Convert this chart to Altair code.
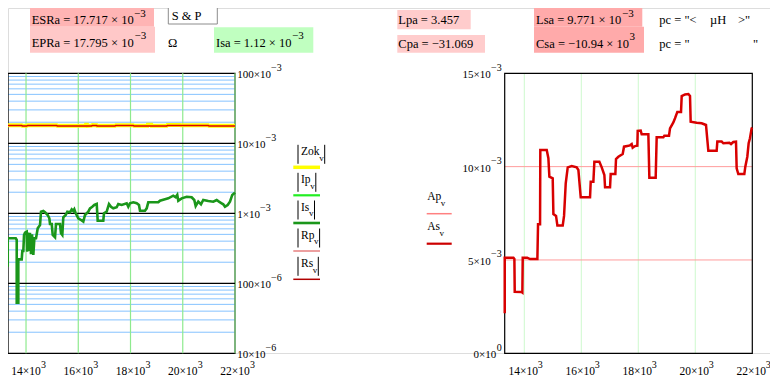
import altair as alt
import pandas as pd

# ---------------------------------------------------------------- values
FREQ_TICKS = [14000, 16000, 18000, 20000, 22000]
FREQ_BASE = ["14×10", "16×10", "18×10", "20×10", "22×10"]
FREQ_EXP = ["3", "3", "3", "3", "3"]
X_DOMAIN = [13310, 22000]

LEFT_Y_DOMAIN = [1e-5, 1e-1]
LEFT_TICKS = [1e-1, 1e-2, 1e-3, 1e-4, 1e-5]
LEFT_BASE = ["100×10", "10×10", "1×10", "100×10", "10×10"]
LEFT_EXP = ["−3", "−3", "−3", "−6", "−6"]
LEFT_INNER_DECADES = [1e-2, 1e-3, 1e-4]
MINOR_MULT = [2, 3, 4, 5, 6, 7, 8, 9]
MINOR_DECADES = [1e-5, 1e-4, 1e-3, 1e-2]

RIGHT_Y_DOMAIN = [0.0, 0.015]
RIGHT_TICKS = [0.015, 0.010, 0.005, 0.0]
RIGHT_BASE = ["15×10", "10×10", "5×10", "0×10"]
RIGHT_EXP = ["−3", "−3", "−3", "0"]
AP_LEVELS = [0.005, 0.010]
RIGHT_VGRID = [14000, 16000, 18000, 20000]

# |Is_v| trace (left, log axis)
IS_TRACE = [
    (13300, 1.73e-4), (13300, 4.26e-4), (13323, 4.40e-4), (13606, 4.40e-4), (13644, 4.16e-4),
    (13644, 5.28e-5), (13705, 5.28e-5), (13705, 2.20e-4), (13835, 2.20e-4), (13858, 2.89e-4),
    (13897, 2.89e-4), (13923, 4.90e-4), (13962, 5.28e-4), (14027, 5.46e-4), (14045, 2.83e-4),
    (14075, 5.30e-4), (14105, 2.90e-4), (14150, 5.28e-4), (14190, 2.60e-4), (14230, 5.00e-4),
    (14279, 2.54e-4), (14320, 4.40e-4), (14383, 4.40e-4), (14448, 6.11e-4), (14536, 6.81e-4),
    (14574, 1.054e-3), (14662, 1.079e-3), (14727, 1.033e-3), (14830, 9.46e-4), (14892, 8.49e-4),
    (14918, 7.03e-4), (14984, 7.03e-4), (15022, 4.90e-4), (15110, 4.54e-4), (15148, 7.03e-4),
    (15301, 7.03e-4), (15339, 5.18e-4), (15389, 4.90e-4), (15427, 8.77e-4), (15519, 9.46e-4),
    (15581, 1.054e-3), (15684, 1.033e-3), (15749, 1.140e-3), (15810, 1.079e-3), (15848, 1.140e-3),
    (15902, 1.0e-3), (16001, 8.49e-4), (16105, 8.02e-4), (16193, 7.59e-4), (16258, 9.46e-4),
    (16384, 1.054e-3), (16449, 1.178e-3), (16537, 1.242e-3), (16614, 1.315e-3), (16706, 1.358e-3),
    (16744, 7.83e-4), (16958, 7.83e-4), (16985, 1.0e-3), (17088, 1.054e-3), (17176, 1.358e-3),
    (17253, 1.242e-3), (17341, 1.178e-3), (17471, 1.219e-3), (17532, 1.358e-3), (17662, 1.315e-3),
    (17854, 1.390e-3), (17915, 1.242e-3), (17980, 1.390e-3), (18106, 1.436e-3), (18237, 1.390e-3),
    (18324, 1.315e-3), (18363, 1.089e-3), (18554, 1.089e-3), (18619, 1.178e-3), (18680, 1.436e-3),
    (19063, 1.436e-3), (19128, 1.514e-3), (19319, 1.585e-3), (19446, 1.637e-3), (19637, 1.784e-3),
    (19729, 1.694e-3), (19790, 1.83e-3), (19829, 1.514e-3), (19959, 1.637e-3), (20150, 1.726e-3),
    (20341, 1.694e-3), (20441, 1.549e-3), (20495, 1.271e-3), (20594, 1.466e-3), (20697, 1.345e-3),
    (20785, 1.549e-3), (20977, 1.50e-3), (21168, 1.466e-3), (21298, 1.549e-3), (21386, 1.466e-3),
    (21489, 1.390e-3), (21551, 1.345e-3), (21616, 1.242e-3), (21719, 1.315e-3), (21807, 1.466e-3),
    (21895, 1.83e-3), (21972, 1.93e-3), (22000, 1.98e-3),
]

# |Rs_v| trace (left)
RS_TRACE = [
    (13300, 1.80e-2), (13835, 1.80e-2), (13858, 1.76e-2), (14027, 1.76e-2), (14065, 1.80e-2),
    (15175, 1.80e-2), (15198, 1.76e-2), (16323, 1.76e-2), (16514, 1.77e-2), (16537, 1.80e-2),
    (16706, 1.80e-2), (16720, 1.76e-2), (17406, 1.76e-2), (17433, 1.80e-2), (18106, 1.80e-2),
    (18133, 1.76e-2), (19385, 1.76e-2), (19408, 1.79e-2), (19894, 1.79e-2), (19921, 1.80e-2),
    (20977, 1.80e-2), (21004, 1.76e-2), (22000, 1.76e-2),
]

# |Zok_v| trace (left)
ZOK_TRACE = [
    (13300, 1.81e-2), (13835, 1.81e-2), (13858, 1.78e-2), (14027, 1.78e-2), (14065, 1.81e-2),
    (15175, 1.81e-2), (15198, 1.78e-2), (16280, 1.78e-2), (16290, 1.84e-2), (16340, 1.84e-2),
    (16350, 1.78e-2), (16514, 1.80e-2), (16537, 1.82e-2), (16706, 1.81e-2), (16720, 1.78e-2),
    (17406, 1.78e-2), (17433, 1.81e-2), (18106, 1.81e-2), (18133, 1.78e-2), (18650, 1.78e-2),
    (18660, 1.84e-2), (18800, 1.84e-2), (18810, 1.78e-2), (19385, 1.78e-2), (19408, 1.82e-2),
    (19894, 1.82e-2), (19921, 1.81e-2), (20977, 1.81e-2), (21004, 1.78e-2), (22000, 1.78e-2),
]

# As_v trace (right, linear axis)
AS_TRACE = [
    (13311, 2.14e-3), (13311, 5.12e-3), (13615, 5.12e-3), (13650, 5.05e-3), (13662, 3.30e-3),
    (13900, 3.28e-3), (13930, 3.25e-3), (13943, 5.12e-3), (14100, 5.12e-3), (14200, 5.05e-3),
    (14457, 5.05e-3), (14480, 6.91e-3), (14551, 6.91e-3), (14560, 10.89e-3), (14785, 10.89e-3),
    (14843, 10.45e-3), (14878, 9.46e-3), (14995, 9.37e-3), (15019, 7.46e-3), (15112, 7.36e-3),
    (15159, 6.84e-3), (15346, 6.84e-3), (15393, 7.36e-3), (15452, 9.11e-3), (15522, 9.96e-3),
    (15662, 10.03e-3), (15837, 9.96e-3), (15896, 9.82e-3), (15978, 8.36e-3), (16305, 8.36e-3),
    (16329, 9.19e-3), (16422, 9.19e-3), (16457, 10.26e-3), (16633, 10.26e-3), (16715, 9.96e-3),
    (16808, 9.55e-3), (16832, 8.89e-3), (17007, 8.89e-3), (17030, 9.60e-3), (17194, 9.60e-3),
    (17217, 10.41e-3), (17299, 10.53e-3), (17451, 10.68e-3), (17498, 11.07e-3), (17709, 11.14e-3),
    (17767, 11.21e-3), (17802, 11.01e-3), (17884, 11.10e-3), (17966, 11.12e-3), (17978, 11.91e-3),
    (18083, 11.93e-3), (18118, 11.73e-3), (18352, 11.73e-3), (18387, 9.41e-3), (18609, 9.41e-3),
    (18644, 11.57e-3), (18878, 11.57e-3), (18913, 11.66e-3), (19077, 11.66e-3), (19112, 12.05e-3),
    (19229, 12.37e-3), (19288, 12.59e-3), (19369, 12.93e-3), (19498, 12.93e-3), (19522, 13.78e-3),
    (19639, 13.87e-3), (19756, 13.89e-3), (19814, 13.78e-3), (19837, 12.41e-3), (20048, 12.35e-3),
    (20223, 12.32e-3), (20375, 12.23e-3), (20422, 11.43e-3), (20457, 10.85e-3), (20749, 10.85e-3),
    (20773, 11.34e-3), (20925, 11.34e-3), (20984, 11.25e-3), (21194, 11.28e-3), (21253, 11.21e-3),
    (21334, 11.32e-3), (21428, 11.34e-3), (21451, 9.91e-3), (21509, 9.60e-3), (21720, 9.60e-3),
    (21755, 10.0e-3), (21825, 10.53e-3), (21872, 11.25e-3), (21918, 11.52e-3), (21977, 12.05e-3),
    (22000, 12.09e-3),
]

LEFT_LEGEND = ["Zok", "Ip", "Is", "Rp", "Rs"]
RIGHT_LEGEND = ["Ap", "As"]

HEADER = [
    ("ESRa = 17.717 × 10", "−3"),
    ("EPRa = 17.795 × 10", "−3"),
    ("Isa = 1.12 × 10", "−3"),
    ("Lsa = 9.771 × 10", "−3"),
    ("Csa = −10.94 × 10", "3"),
]
PLAIN_TEXT = ["Parall", "S & P", "Ω", "Lpa = 3.457", "Cpa = −31.069",
              'pc = "<', "µH", '>"', 'pc = "', '"']

# ---------------------------------------------------------------- layout / style
FONT = "Liberation Serif"
W, H = 762, 345
LX = alt.Scale(domain=X_DOMAIN, range=[0, 227], nice=False, zero=False)
LY = alt.Scale(type="log", domain=LEFT_Y_DOMAIN, range=[345.3, 65.3], nice=False)
RX = alt.Scale(domain=X_DOMAIN, range=[496.7, 744.3], nice=False, zero=False)
RY = alt.Scale(domain=RIGHT_Y_DOMAIN, range=[345.3, 65.3], nice=False, zero=False)

BLUE_GRID = "#86C3FF"
GREEN_GRID = "#8EEA8E"
PALE_GREEN = "#D6FAD6"
AP_COLOR = "#FF9C9C"

HEADER_POS = [  # base x, base baseline, exp x, exp baseline
    (23.7, 16.0, 126.0, 9.0),
    (23.7, 38.7, 126.5, 31.0),
    (208.0, 38.7, 284.0, 31.0),
    (528.0, 16.0, 614.0, 9.0),
    (528.0, 40.3, 621.5, 32.0),
]
PLAIN_POS = [(163.7, -4.5), (163.7, 11.5), (160.0, 39.0), (390.3, 16.0), (390.3, 40.3),
             (651.3, 16.0), (702.0, 16.0), (730.0, 16.0), (651.3, 40.3), (745.0, 40.3)]
BOXES = [  # x0, x1, y0, y1, fill, stroke
    (22, 146, -5, 18.7, "#FFB4B4", None),
    (22, 147, 18.7, 44.7, "#FFC8C8", None),
    (206, 305.3, 19.3, 44.7, "#C0FFC0", None),
    (160.3, 209.3, -5, 16, "#FFFFFF", "#8C8C8C"),
    (389.3, 462.7, 2, 21.3, "#FFCCCC", None),
    (389.3, 477, 27, 44.7, "#FFCCCC", None),
    (526, 634.3, -5, 18.7, "#FFAAAA", None),
    (526, 636, 18.7, 44.7, "#FFAAAA", None),
]
LEFT_LEG_STYLE = [  # line y, text width, colour, stroke width
    (159.3, 18.5, "#FFFF00", 3.5),
    (187.3, 9.6, "#22EE22", 2.2),
    (215.0, 8.3, "#1A961A", 2.6),
    (243.0, 13.4, "#E06060", 1.2),
    (271.3, 12.1, "#B00000", 1.5),
]
RIGHT_LEG_STYLE = [(205.7, 14.0, "#FF8080", 1.5), (235.7, 12.8, "#CC0000", 2.2)]

dummy = pd.DataFrame({"a": [0]})


def vtext(s, x, y, size, align="left"):
    return alt.Chart(pd.DataFrame({"t": [s]})).mark_text(
        align=align, baseline="alphabetic", font=FONT, fontSize=size, color="black"
    ).encode(x=alt.value(x), y=alt.value(y), text="t:N")


def vrect(x0, x1, y0, y1, fill, stroke=None):
    kw = dict(fill=fill)
    if stroke:
        kw.update(stroke=stroke, strokeWidth=1)
    return alt.Chart(dummy).mark_rect(**kw).encode(
        x=alt.value(x0), x2=alt.value(x1), y=alt.value(y0), y2=alt.value(y1))


def vrule(x0, x1, y0, y1, color, width):
    return alt.Chart(dummy).mark_rule(color=color, strokeWidth=width).encode(
        x=alt.value(x0), x2=alt.value(x1), y=alt.value(y0), y2=alt.value(y1))


def trace_df(pts):
    return pd.DataFrame({"f": [p[0] for p in pts], "v": [p[1] for p in pts],
                         "i": list(range(len(pts)))})


# ---------------------------------------------------------------- left plot
minor_df = pd.DataFrame({"y": [m * d for d in MINOR_DECADES for m in MINOR_MULT],
                         "x0": X_DOMAIN[0], "x1": X_DOMAIN[1]})
dec_df = pd.DataFrame({"y": LEFT_INNER_DECADES, "x0": X_DOMAIN[0], "x1": X_DOMAIN[1]})
lvgrid_df = pd.DataFrame({"x": FREQ_TICKS, "y0": LEFT_Y_DOMAIN[0], "y1": LEFT_Y_DOMAIN[1]})
lframe_df = pd.DataFrame({"x0": [X_DOMAIN[0]], "x1": [X_DOMAIN[1]],
                          "y0": [LEFT_Y_DOMAIN[0]], "y1": [LEFT_Y_DOMAIN[1]]})

l_minor = alt.Chart(minor_df).mark_rule(color=BLUE_GRID, strokeWidth=1).encode(
    x=alt.X("x0:Q", scale=LX, axis=None), x2="x1:Q", y=alt.Y("y:Q", scale=LY, axis=None))
l_frame = alt.Chart(lframe_df).mark_rect(fillOpacity=0, stroke="black", strokeWidth=1.2).encode(
    x=alt.X("x0:Q", scale=LX, axis=None), x2="x1:Q",
    y=alt.Y("y0:Q", scale=LY, axis=None), y2="y1:Q")
l_vgrid = alt.Chart(lvgrid_df).mark_rule(color=GREEN_GRID, strokeWidth=1.2).encode(
    x=alt.X("x:Q", scale=LX, axis=None), y=alt.Y("y0:Q", scale=LY, axis=None), y2="y1:Q")
l_dec = alt.Chart(dec_df).mark_rule(color="black", strokeWidth=1.3).encode(
    x=alt.X("x0:Q", scale=LX, axis=None), x2="x1:Q", y=alt.Y("y:Q", scale=LY, axis=None))


def left_line(pts, color, width):
    return alt.Chart(trace_df(pts)).mark_line(color=color, strokeWidth=width).encode(
        x=alt.X("f:Q", scale=LX, axis=None), y=alt.Y("v:Q", scale=LY, axis=None), order="i:Q")


l_zok = left_line(ZOK_TRACE, "#FFFF00", 4)
l_rs = left_line(RS_TRACE, "#E00000", 1.5)
l_is = left_line(IS_TRACE, "#1A961A", 2.6)

fx_df = pd.DataFrame({"f": FREQ_TICKS, "base": FREQ_BASE, "exp": FREQ_EXP})
ly_df = pd.DataFrame({"v": LEFT_TICKS, "base": LEFT_BASE, "exp": LEFT_EXP})

l_xlab = alt.Chart(fx_df).mark_text(align="center", baseline="alphabetic", font=FONT,
                                    fontSize=11.5).encode(
    x=alt.X("f:Q", scale=LX, axis=None), y=alt.value(367), text="base:N")
l_xexp = alt.Chart(fx_df).mark_text(align="left", baseline="alphabetic", font=FONT,
                                    fontSize=10, dx=15).encode(
    x=alt.X("f:Q", scale=LX, axis=None), y=alt.value(359.5), text="exp:N")
l_ylab = alt.Chart(ly_df).mark_text(align="left", baseline="alphabetic", font=FONT,
                                    fontSize=11, dy=5).encode(
    x=alt.value(229.3), y=alt.Y("v:Q", scale=LY, axis=None), text="base:N")
l_yexp = [
    alt.Chart(ly_df).transform_filter(f"length(datum.base) == {n}").mark_text(
        align="left", baseline="alphabetic", font=FONT, fontSize=10, dy=-2.5).encode(
        x=alt.value(229.3 + w), y=alt.Y("v:Q", scale=LY, axis=None), text="exp:N")
    for n, w in [(6, 33.7), (5, 28.2), (4, 22.7)]
]

left = alt.layer(l_minor, l_frame, l_vgrid, l_dec, l_zok, l_rs, l_is,
                 l_xlab, l_xexp, l_ylab, *l_yexp)

# ---------------------------------------------------------------- right plot
rv_df = pd.DataFrame({"x": RIGHT_VGRID, "y0": RIGHT_Y_DOMAIN[0], "y1": RIGHT_Y_DOMAIN[1]})
ap_df = pd.DataFrame({"y": AP_LEVELS, "x0": X_DOMAIN[0], "x1": X_DOMAIN[1]})
rframe_df = pd.DataFrame({"x0": [X_DOMAIN[0]], "x1": [X_DOMAIN[1]],
                          "y0": [RIGHT_Y_DOMAIN[0]], "y1": [RIGHT_Y_DOMAIN[1]]})

r_vgrid = alt.Chart(rv_df).mark_rule(color=PALE_GREEN, strokeWidth=1.2).encode(
    x=alt.X("x:Q", scale=RX, axis=None), y=alt.Y("y0:Q", scale=RY, axis=None), y2="y1:Q")
r_ap = alt.Chart(ap_df).mark_rule(color=AP_COLOR, strokeWidth=1).encode(
    x=alt.X("x0:Q", scale=RX, axis=None), x2="x1:Q", y=alt.Y("y:Q", scale=RY, axis=None))
r_frame = alt.Chart(rframe_df).mark_rect(fillOpacity=0, stroke="black", strokeWidth=1.2).encode(
    x=alt.X("x0:Q", scale=RX, axis=None), x2="x1:Q",
    y=alt.Y("y0:Q", scale=RY, axis=None), y2="y1:Q")
r_as = alt.Chart(trace_df(AS_TRACE)).mark_line(color="#D80000", strokeWidth=2.5).encode(
    x=alt.X("f:Q", scale=RX, axis=None), y=alt.Y("v:Q", scale=RY, axis=None), order="i:Q")

ry_df = pd.DataFrame({"v": RIGHT_TICKS, "base": RIGHT_BASE, "exp": RIGHT_EXP})
r_xlab = alt.Chart(fx_df).mark_text(align="center", baseline="alphabetic", font=FONT,
                                    fontSize=11.5, dx=-1).encode(
    x=alt.X("f:Q", scale=RX, axis=None), y=alt.value(367), text="base:N")
r_xexp = alt.Chart(fx_df).mark_text(align="left", baseline="alphabetic", font=FONT,
                                    fontSize=10, dx=13.5).encode(
    x=alt.X("f:Q", scale=RX, axis=None), y=alt.value(359.5), text="exp:N")
r_ylab = [
    alt.Chart(ry_df).transform_filter(f"length(datum.exp) == {n}").mark_text(
        align="right", baseline="alphabetic", font=FONT, fontSize=11, dy=5).encode(
        x=alt.value(493.7 - w), y=alt.Y("v:Q", scale=RY, axis=None), text="base:N")
    for n, w in [(2, 11.0), (1, 5.5)]
]
r_yexp = alt.Chart(ry_df).mark_text(align="right", baseline="alphabetic", font=FONT,
                                    fontSize=10, dy=-2.6).encode(
    x=alt.value(493.7), y=alt.Y("v:Q", scale=RY, axis=None), text="exp:N")

right = alt.layer(r_vgrid, r_ap, r_frame, r_as, r_xlab, r_xexp, *r_ylab, r_yexp)

# ---------------------------------------------------------------- annotations
ann = []
for (x0, x1, y0, y1, fill, stroke) in BOXES:
    ann.append(vrect(x0, x1, y0, y1, fill, stroke))
for (base, exp), (bx, by, ex, ey) in zip(HEADER, HEADER_POS):
    ann.append(vtext(base, bx, by, 12.5))
    ann.append(vtext(exp, ex, ey, 11))
for s, (x, y) in zip(PLAIN_TEXT, PLAIN_POS):
    ann.append(vtext(s, x, y, 12.5))

for name, (ly, tw, col, sw) in zip(LEFT_LEGEND, LEFT_LEG_STYLE):
    tx = 293.0
    ann.append(vtext(name, tx, ly - 12.3, 11.5))
    ann.append(vtext("v", tx + tw - 0.3, ly - 6.6, 9))
    ann.append(vrule(290.0, 290.0, ly - 22.5, ly - 3.5, "black", 1))
    ann.append(vrule(tx + tw + 5.2, tx + tw + 5.2, ly - 22.5, ly - 3.5, "black", 1))
    ann.append(vrule(285.3, 312.0, ly, ly, col, sw))

for name, (ly, tw, col, sw) in zip(RIGHT_LEGEND, RIGHT_LEG_STYLE):
    tx = 419.3
    ann.append(vtext(name, tx, ly - 13.7, 11.5))
    ann.append(vtext("v", tx + tw - 0.5, ly - 8.0, 9))
    ann.append(vrule(418.7, 443.7, ly, ly, col, sw))

chart = alt.layer(left, right, *ann).resolve_scale(x="independent", y="independent").properties(
    width=W, height=H,
    autosize=alt.AutoSizeParams(type="none"),
    padding={"left": 0, "top": 0, "right": 0, "bottom": 23},
).configure_view(stroke=None).configure(background="white")

chart.save("out.html", embed_options={"renderer": "svg", "actions": False})
